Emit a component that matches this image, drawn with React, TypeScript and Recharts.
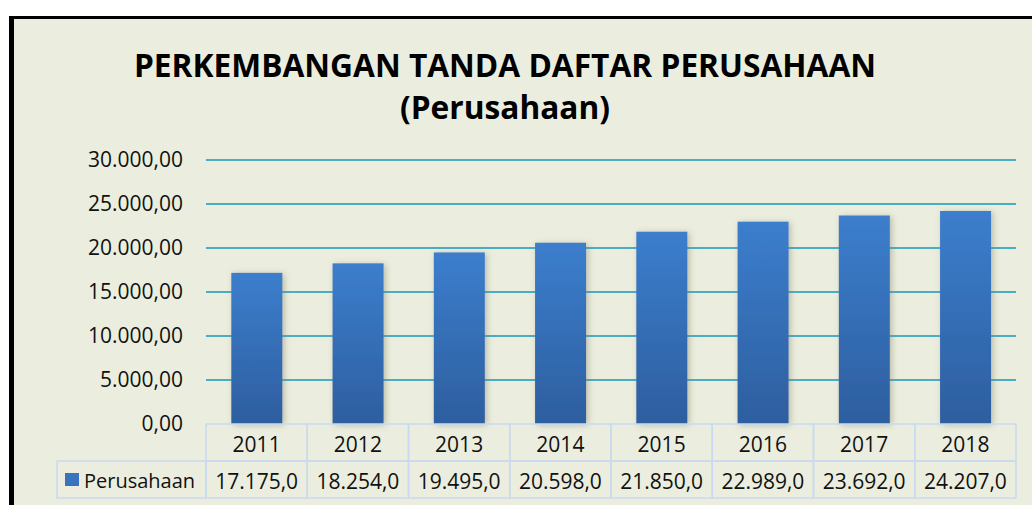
// Perkembangan Tanda Daftar Perusahaan — bar chart with data table under the axis
import { BarChart, Bar, XAxis, YAxis, CartesianGrid } from 'recharts';

const years = ['2011', '2012', '2013', '2014', '2015', '2016', '2017', '2018'];
const perusahaan = [17175, 18254, 19495, 20598, 21850, 22989, 23692, 24207];
const yTicks = [0, 5000, 10000, 15000, 20000, 25000, 30000];
const gridValues = [5000, 10000, 15000, 20000, 25000, 30000];
const seriesName = 'Perusahaan';
const titleLines = ['PERKEMBANGAN TANDA DAFTAR PERUSAHAAN', '(Perusahaan)'];

const data = years.map((y, i) => ({ year: y, value: perusahaan[i] }));

const W = 1032;
const H = 505;
const MARGIN = { top: 160, right: 16, bottom: 7, left: 0 };
const Y_AXIS_W = 206;
const ROW_H = 37;
const LEGEND_CELL_W = 149;
const BAND = (W - MARGIN.left - MARGIN.right - Y_AXIS_W) / years.length;

const FONT = "'Open Sans', sans-serif";
const FS = 21;
const BG = '#EBEEDE';
const TABLE_LINE = '#C8DAEF';
const TEXT = '#111';

// Indonesian number format: 30.000,00
function fmt(v: number, decimals: number) {
  const [int, frac] = v.toFixed(decimals).split('.');
  const withDots = int.replace(/\B(?=(\d{3})+(?!\d))/g, '.');
  return frac ? `${withDots},${frac}` : withDots;
}

// one tick = one column of the data table: year on top, value below
// eslint-disable-next-line @typescript-eslint/no-explicit-any
function TableColumn(props: any) {
  const { x, y, payload, index } = props;
  const i = years.indexOf(payload.value);
  const left = x - BAND / 2;
  const row2 = y + ROW_H;
  return (
    <g>
      <rect x={left} y={y} width={BAND} height={ROW_H} fill="none" stroke={TABLE_LINE} strokeWidth={1.5} />
      <text x={x} y={y + ROW_H / 2 + 1} textAnchor="middle" dominantBaseline="central"
        fontFamily={FONT} fontSize={FS} fill={TEXT}>
        {payload.value}
      </text>
      {index === 0 && (
        <g>
          <rect x={left - LEGEND_CELL_W} y={row2} width={LEGEND_CELL_W} height={ROW_H} fill="none" stroke={TABLE_LINE} strokeWidth={1.5} />
          <rect x={left - LEGEND_CELL_W + 8} y={row2 + 12} width={14} height={13} fill="#3B74BE" />
          <text x={left - LEGEND_CELL_W + 27} y={row2 + ROW_H / 2 + 1} dominantBaseline="central"
            fontFamily={FONT} fontSize={20} fill={TEXT}>
            {seriesName}
          </text>
        </g>
      )}
      <rect x={left} y={row2} width={BAND} height={ROW_H} fill="none" stroke={TABLE_LINE} strokeWidth={1.5} />
      <text x={x} y={row2 + ROW_H / 2 + 1} textAnchor="middle" dominantBaseline="central"
        fontFamily={FONT} fontSize={FS} fill={TEXT}>
        {fmt(perusahaan[i], 1)}
      </text>
    </g>
  );
}

// eslint-disable-next-line @typescript-eslint/no-explicit-any
function ShadowBar(props: any) {
  const { x, y, width, height } = props;
  if (!height || height <= 0) return null;
  return <rect x={x} y={y} width={width} height={height} fill="url(#barGradient)" filter="url(#barShadow)" />;
}

export default function App() {
  return (
    <div style={{ position: 'absolute', left: 0, top: 0, width: W, height: H, background: '#fff', overflow: 'hidden' }}>
      <div style={{
        position: 'absolute', left: 9, top: 16, right: 0, bottom: 0,
        borderLeft: '5px solid #000', borderTop: '3px solid #000', background: BG,
      }} />
      <div style={{
        position: 'absolute', left: 0, top: 44, width: 1010, textAlign: 'center',
        fontFamily: FONT, fontWeight: 700, fontSize: 31.7, lineHeight: '42px', color: '#000',
      }}>
        {titleLines.map(t => <div key={t}>{t}</div>)}
      </div>
      <div style={{ position: 'absolute', left: 0, top: 0 }}>
        <BarChart width={W} height={H} data={data} margin={MARGIN} barCategoryGap="25%">
          <defs>
            <linearGradient id="barGradient" x1="0" y1="0" x2="0" y2="1">
              <stop offset="0%" stopColor="#3C7ECD" />
              <stop offset="100%" stopColor="#2D5E9F" />
            </linearGradient>
            <filter id="barShadow" x="-30%" y="-10%" width="160%" height="120%">
              <feDropShadow dx={2} dy={1} stdDeviation={3} floodColor="#7a7a60" floodOpacity={0.45} />
            </filter>
          </defs>
          <CartesianGrid vertical={false} horizontalValues={gridValues} stroke="#4BACC6" strokeWidth={2} />
          <YAxis
            width={Y_AXIS_W}
            domain={[0, 30000]}
            ticks={yTicks}
            axisLine={false}
            tickLine={false}
            tickSize={0}
            tickMargin={23}
            tickFormatter={(v: number) => fmt(v, 2)}
            tick={{ fill: TEXT, fontSize: FS, fontFamily: FONT }}
          />
          <XAxis
            dataKey="year"
            height={ROW_H * 2}
            axisLine={false}
            tickLine={false}
            tickSize={0}
            tickMargin={0}
            interval={0}
            tick={<TableColumn />}
          />
          <Bar dataKey="value" name={seriesName} shape={<ShadowBar />} isAnimationActive={false} />
        </BarChart>
      </div>
    </div>
  );
}
